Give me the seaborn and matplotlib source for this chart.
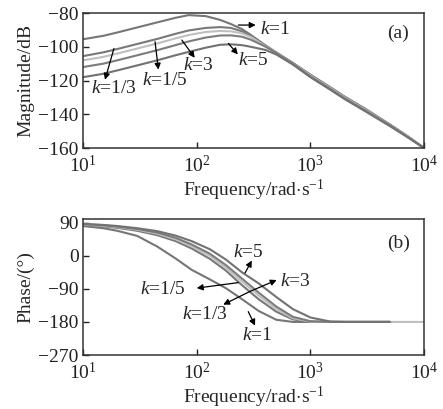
import numpy as np
import pandas as pd
import matplotlib
matplotlib.use('Agg')
import matplotlib.pyplot as plt
import seaborn as sns
from matplotlib.ticker import LogLocator, NullLocator

# ---- data ----
k_names = ['k=1', 'k=1/3', 'k=1/5', 'k=3', 'k=5']

mag_freq = [10, 15, 20, 30, 45, 65, 85, 120, 160, 200, 250, 300, 400, 500,
            700, 1000, 1500, 2000, 3000, 5000, 7000, 10000]
mag_k1 = [-95.5, -93.5, -91.5, -88.5, -85.5, -82.8, -81.2, -81.8, -84.0, -86.5,
          -89.5, -93.0, -99.0, -103.3, -109.5, -116.5, -124.0, -129.5, -136.5,
          -146.0, -152.5, -160.0]
mag_k1_3 = [-105.5, -103.3, -101.3, -98.3, -95.3, -92.3, -90.3, -88.8, -88.3,
            -88.8, -90.8, -93.5, -99.3, -103.4, -109.6, -116.7, -124.2, -129.7,
            -136.7, -146.1, -152.6, -160.0]
mag_k1_5 = [-108.0, -106.0, -104.0, -101.0, -98.0, -95.0, -93.0, -91.2, -90.6,
            -90.8, -92.0, -94.2, -99.5, -103.5, -109.8, -117.0, -124.5, -130.0,
            -137.0, -146.3, -152.7, -160.0]
mag_k3 = [-112.0, -110.0, -108.0, -105.0, -102.0, -99.0, -96.8, -94.5, -93.3,
          -93.2, -94.0, -95.8, -99.8, -103.6, -110.0, -117.5, -125.0, -130.5,
          -137.5, -146.5, -153.0, -160.0]
mag_k5 = [-118.0, -116.0, -114.0, -111.0, -108.0, -105.0, -103.0, -100.5, -98.8,
          -98.5, -99.0, -100.0, -101.8, -104.5, -110.5, -118.0, -125.5, -131.0,
          -138.0, -147.0, -153.2, -160.0]

phase_freq = [10, 15, 20, 30, 45, 65, 90, 130, 180, 250, 350, 500, 700, 1000,
              1500, 2000, 3000, 5000]
phase_freq_long = phase_freq + [10000]
phase_k1 = [81, 75, 68, 54, 25, -7, -38, -64, -88, -118, -150, -174, -180,
            -180, -180, -180, -180, -180]
phase_k1_3 = [84, 80, 76, 68, 56, 40, 20, -8, -40, -80, -118, -152, -173,
              -180, -180, -180, -180, -180]
phase_k1_5 = [85, 81.5, 78, 71, 60, 45, 26, 0, -32, -70, -108, -145, -170,
              -179, -180, -180, -180, -180, -180]
phase_k3 = [86, 83, 79.5, 73, 63, 49, 31, 6, -25, -62, -100, -138, -166,
            -178, -180, -180, -180, -180]
phase_k5 = [87, 84, 81, 75, 67, 55, 40, 18, -10, -45, -75, -112, -145,
            -168, -179, -180, -180, -180]

mag_labels = [
    # text, text pos, arrow tail, arrow head
    ('$k$=1', (490, -89.5), (232, -87.1), (330, -87.1)),
    ('$k$=5', (315, -108.0), (190, -98.0), (230, -104.5)),
    ('$k$=3', (104, -111.0), (74, -96.0), (96, -106.5)),
    ('$k$=1/5', (52, -120.0), (43, -97.0), (46, -113.5)),
    ('$k$=1/3', (18.5, -124.5), (18.7, -101.0), (15.6, -119.5)),
]
phase_labels = [
    ('$k$=5', (283, 8), (266, -47), (305, -13)),
    ('$k$=3', (730, -70), (294, -97), (505, -66)),
    ('$k$=1/5', (50, -91), (232, -73), (100, -88)),
    ('$k$=1/3', (118, -161), (294, -97), (171, -133)),
    ('$k$=1', (337, -216), (284, -152), (326, -190)),
]

mag_df = pd.concat([
    pd.DataFrame({'freq': mag_freq, 'val': v, 'k': n})
    for n, v in zip(k_names, [mag_k1, mag_k1_3, mag_k1_5, mag_k3, mag_k5])
])
phase_df = pd.concat([
    pd.DataFrame({'freq': f, 'val': v, 'k': n})
    for n, f, v in zip(k_names,
                       [phase_freq, phase_freq, phase_freq_long, phase_freq, phase_freq],
                       [phase_k1, phase_k1_3, phase_k1_5, phase_k3, phase_k5])
])

palette = {'k=1': '#767676', 'k=1/3': '#787878', 'k=1/5': '#bfbfbf',
           'k=3': '#7c7c7c', 'k=5': '#727272'}

sns.set_style('ticks')
plt.rcParams['font.family'] = ['Liberation Serif', 'DejaVu Serif']
plt.rcParams['mathtext.fontset'] = 'custom'
plt.rcParams['mathtext.rm'] = 'Liberation Serif'
plt.rcParams['mathtext.it'] = 'Liberation Serif:italic'
plt.rcParams['font.size'] = 14

fig = plt.figure(figsize=(4.43, 4.09), dpi=100)
ax1 = fig.add_axes([0.1874, 0.638, 0.770, 0.330])
ax2 = fig.add_axes([0.1874, 0.132, 0.770, 0.3325])


def style_axis(ax, ylim, yticks, ylabel):
    ax.set_xscale('log')
    ax.set_xlim(10, 10000)
    ax.set_ylim(*ylim)
    ax.set_yticks(yticks)
    ax.xaxis.set_major_locator(LogLocator(base=10, numticks=10))
    ax.xaxis.set_minor_locator(NullLocator())
    ax.tick_params(direction='in', length=4, width=1, labelsize=14,
                   colors='#222222', top=False, right=False)
    ax.tick_params(axis='x', pad=5)
    ax.tick_params(axis='y', pad=3)
    for s in ax.spines.values():
        s.set_visible(True)
        s.set_color('#333333')
        s.set_linewidth(1.1)
    ax.set_xlabel('Frequency/rad$\\cdot$s$^{-1}$', fontsize=14, labelpad=1)
    ax.set_ylabel(ylabel, fontsize=14, labelpad=3)


sns.lineplot(data=mag_df, x='freq', y='val', hue='k', palette=palette,
             estimator=None, sort=False, legend=False, lw=1.5, ax=ax1)
sns.lineplot(data=phase_df, x='freq', y='val', hue='k', palette=palette,
             estimator=None, sort=False, legend=False, lw=1.5, ax=ax2)

style_axis(ax1, (-160, -80), [-160, -140, -120, -100, -80], 'Magnitude/dB')
style_axis(ax2, (-270, 100), [-270, -180, -90, 0, 90], 'Phase/(°)')

for ax, labels in [(ax1, mag_labels), (ax2, phase_labels)]:
    for txt, tpos, tail, head in labels:
        ax.annotate('', xy=head, xytext=tail,
                    arrowprops=dict(arrowstyle='-|>', color='black', lw=0.9,
                                    mutation_scale=9, shrinkA=0, shrinkB=0))
        ax.text(tpos[0], tpos[1], txt, fontsize=14, ha='center', va='center')

ax1.text(5900, -92, '(a)', fontsize=14, ha='center', va='center')
ax2.text(5900, 35, '(b)', fontsize=14, ha='center', va='center')

fig.savefig('out.png', dpi=100)
